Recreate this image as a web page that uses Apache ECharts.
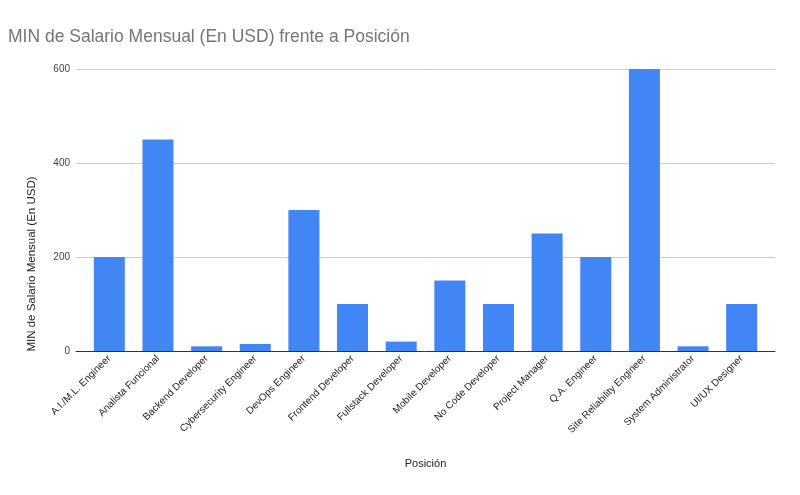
<!DOCTYPE html>
<html><head><meta charset="utf-8">
<script src="https://cdn.jsdelivr.net/npm/echarts@6/dist/echarts.min.js"></script>
<style>html,body{margin:0;padding:0;background:#fff}#c{width:800px;height:495px}</style>
</head><body><div id="c"></div>
<script>
const categories = ["A.I./M.L. Engineer","Analista Funcional","Backend Developer","Cybersecurity Engineer","DevOps Engineer","Frontend Developer","Fullstack Developer","Mobile Developer","No Code Developer","Project Manager","Q.A. Engineer","Site Reliability Engineer","System Administrator","UI/UX Designer"];
const minSalary = [200,450,10,15,300,100,20,150,100,250,200,600,10,100];
const yTicks = [0,200,400,600];
const F = "Liberation Sans, Arial, sans-serif";
const chart = echarts.init(document.getElementById('c'));
chart.setOption({
  animation:false,
  title:{text:"MIN de Salario Mensual (En USD) frente a Posición",left:3,top:23,textStyle:{fontFamily:F,fontSize:17.5,fontWeight:"normal",color:"#757575"}},
  grid:[
    {left:76,right:25,top:69,bottom:144},
    {left:85,right:34,top:69,bottom:144}
  ],
  xAxis:[
    {type:"category",gridIndex:0,data:[""],axisLine:{lineStyle:{color:"#333"}},axisTick:{show:false},axisLabel:{show:false},z:5},
    {type:"category",gridIndex:1,data:categories,name:"Posición",nameLocation:"middle",nameGap:107,
      nameTextStyle:{fontFamily:F,fontSize:11,color:"#222"},
      axisLine:{show:false},axisTick:{show:false},
      axisLabel:{rotate:45,interval:0,fontFamily:F,fontSize:10,color:"#222",margin:6}}
  ],
  yAxis:[
    {type:"value",gridIndex:0,min:yTicks[0],max:yTicks[yTicks.length-1],interval:200,name:"MIN de Salario Mensual (En USD)",nameLocation:"middle",nameGap:38,
      nameTextStyle:{fontFamily:F,fontSize:11.5,color:"#222",padding:[0,108,0,0]},
      axisLine:{show:false},axisTick:{show:false},
      axisLabel:{fontFamily:F,fontSize:10,color:"#444",margin:6},
      splitLine:{lineStyle:{color:"#ccc"}}},
    {type:"value",gridIndex:1,min:yTicks[0],max:yTicks[yTicks.length-1],interval:200,show:false,splitLine:{show:false}}
  ],
  series:[{type:"bar",xAxisIndex:1,yAxisIndex:1,data:minSalary,barWidth:31,itemStyle:{color:"#4285F4"}}]
});
</script></body></html>
